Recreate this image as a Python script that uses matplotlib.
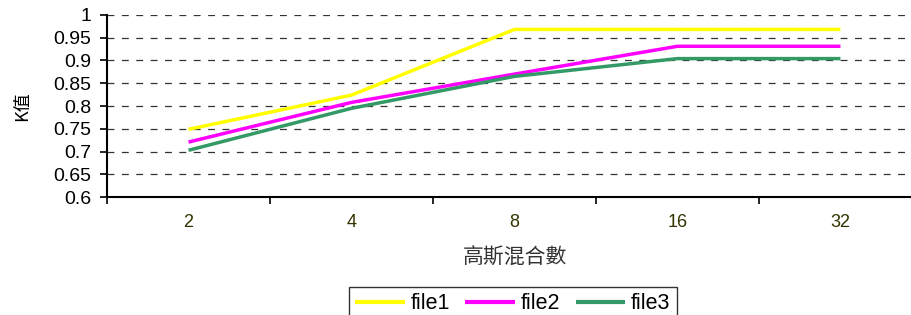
import matplotlib.pyplot as plt
from matplotlib.ticker import MultipleLocator, FixedLocator, NullFormatter, FuncFormatter

plt.rcParams['font.family'] = ['Liberation Sans', 'Noto Sans CJK TC', 'DejaVu Sans']

categories = ['2', '4', '8', '16', '32']
file1 = [0.749, 0.824, 0.968, 0.968, 0.968]
file2 = [0.721, 0.808, 0.870, 0.931, 0.931]
file3 = [0.703, 0.795, 0.865, 0.904, 0.904]

series = [('file1', file1, '#FFFF00'),
          ('file2', file2, '#FF00FF'),
          ('file3', file3, '#339966')]

fig = plt.figure(figsize=(9.11, 3.15), dpi=100)
ax = fig.add_axes([0.1175, 0.3737, 1.012 - 0.1175, 0.953 - 0.3737])

x = range(len(categories))
for name, vals, col in series:
    ax.plot(x, vals, color=col, lw=2.5, label=name, solid_capstyle='butt')

ax.set_xlim(-0.5, len(categories) - 0.5)
ax.set_ylim(0.6, 1.0)
ax.yaxis.set_major_locator(MultipleLocator(0.05))
ax.yaxis.set_major_formatter(FuncFormatter(lambda v, p: f'{round(v, 2):g}'))
ax.yaxis.grid(True, linestyle=(0, (5.5, 6)), color='#333333', lw=0.9)
ax.tick_params(axis='y', labelsize=14, length=5, width=1.2, direction='out', pad=6.5)

ax.set_xticks(list(x))
ax.set_xticklabels(categories, color='#333300', fontsize=13)
ax.tick_params(axis='x', which='major', length=0, pad=12)
ax.xaxis.set_minor_locator(FixedLocator([i - 0.5 for i in range(len(categories) + 1)]))
ax.xaxis.set_minor_formatter(NullFormatter())
ax.tick_params(axis='x', which='minor', length=5, width=1.2, direction='out')

for s in ['top', 'right']:
    ax.spines[s].set_visible(False)
ax.spines['left'].set_linewidth(1.5)
ax.spines['bottom'].set_linewidth(1.5)

ax.set_xlabel('高斯混合數', fontsize=15, color='#333333', labelpad=11,
              family=['Noto Sans CJK TC', 'DejaVu Sans'])
ax.set_ylabel('K值', fontsize=13, labelpad=16,
              family=['Noto Sans CJK TC', 'DejaVu Sans'])

leg = fig.legend(loc='upper center', bbox_to_anchor=(513 / 911, 1 - 287 / 315),
                 ncol=3, fontsize=15.5, frameon=True, fancybox=False,
                 edgecolor='black', handlelength=2.3, handletextpad=0.28,
                 columnspacing=0.7, borderpad=0.3, borderaxespad=0)
leg.get_frame().set_linewidth(1.0)
for line in leg.get_lines():
    line.set_linewidth(3)

fig.savefig('out.png', dpi=100)
